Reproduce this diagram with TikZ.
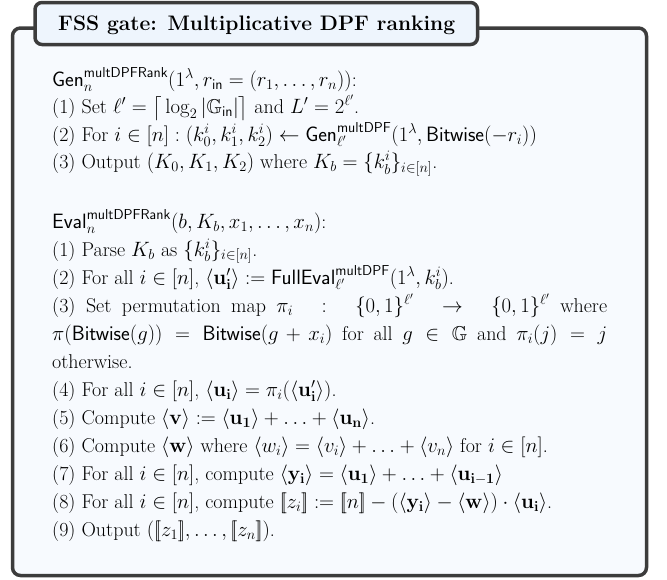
\documentclass[tikz,border=0pt]{standalone}
\usepackage{amsmath, amssymb}
\usepackage{tikz}
\usetikzlibrary{positioning}

\definecolor{frame}{HTML}{3C3C3C}
\definecolor{boxbg}{HTML}{F7FAFE}
\definecolor{titlebg}{HTML}{EEF5FD}

% semantic brackets and shares
\newcommand{\lsem}{\mathopen{[\mkern-3mu[}}
\newcommand{\rsem}{\mathclose{]\mkern-3mu]}}
\newcommand{\shr}[1]{\langle #1\rangle}
\newcommand{\sfn}[1]{\mathsf{#1}}

\begin{document}
\begin{tikzpicture}[x=1pt,y=-1pt,
    algline/.style={anchor=base west,inner sep=0pt,text height=13pt,text depth=5pt,
      font=\fontsize{20}{24}\selectfont},
    gatebox/.style={draw=frame,line width=3.5pt,fill=boxbg,rounded corners=8pt},
    titletab/.style={draw=frame,line width=3.5pt,fill=titlebg,rounded corners=7pt}]
    \useasboundingbox (0,0) rectangle (667,579);

    \draw[gatebox] (12.5,28) rectangle (646.5,575.5);
    \draw[titletab] (35,2.5) rectangle (477.5,44.5);
    \node[anchor=base west,inner sep=0pt,font=\bfseries\fontsize{21}{24}\selectfont] (title) at (58,30) {FSS gate: Multiplicative DPF ranking};

    % key generation
    \node[algline] (gen) at (52,86) {$\sfn{Gen}^{\sfn{multDPFRank}}_n(1^\lambda, r_{\sfn{in}} = (r_1,\ldots,r_n))$:};
    \node[algline] (gen1) at (52,113.5) {(1) Set $\ell' = \big\lceil \log_2|\mathbb{G}_{\sfn{in}}|\big\rceil$ and $L' = 2^{\ell'}$.};
    \node[algline] (gen2) at (52,141) {(2) For $i\in[n] : (k^i_0,k^i_1,k^i_2) \leftarrow \sfn{Gen}^{\sfn{multDPF}}_{\ell'}(1^\lambda, \sfn{Bitwise}(-r_i))$};
    \node[algline] (gen3) at (52,168.5) {(3) Output $(K_0,K_1,K_2)$ where $K_b = \{k^i_b\}_{i\in[n]}$.};

    % evaluation
    \node[algline] (eval) at (52,228) {$\sfn{Eval}^{\sfn{multDPFRank}}_n(b, K_b, x_1,\ldots,x_n)$:};
    \node[algline] (ev1) at (52,256) {(1) Parse $K_b$ as $\{k^i_b\}_{i\in[n]}$.};
    \node[algline] (ev2) at (52,284) {(2) For all $i\in[n]$, $\shr{\mathbf{u'_i}} := \sfn{FullEval}^{\sfn{multDPF}}_{\ell'}(1^\lambda, k^i_b)$.};
    \node[algline] (ev3) at (52,312) {\hbox to 555pt{(3) Set permutation map $\pi_i \;:\; \{0,1\}^{\ell'} \;\to\; \{0,1\}^{\ell'}$ where}};
    \node[algline] (ev3b) at (52,340) {\hbox to 555pt{$\pi(\sfn{Bitwise}(g)) = \sfn{Bitwise}(g+x_i)$ for all $g\in\mathbb{G}$ and $\pi_i(j) = j$}};
    \node[algline] (ev3c) at (52,368) {otherwise.};
    \node[algline] (ev4) at (52,396) {(4) For all $i\in[n]$, $\shr{\mathbf{u_i}} = \pi_i(\shr{\mathbf{u'_i}})$.};
    \node[algline] (ev5) at (52,424) {(5) Compute $\shr{\mathbf{v}} := \shr{\mathbf{u_1}} + \ldots + \shr{\mathbf{u_n}}$.};
    \node[algline] (ev6) at (52,452) {(6) Compute $\shr{\mathbf{w}}$ where $\shr{w_i} = \shr{v_i} + \ldots + \shr{v_n}$ for $i\in[n]$.};
    \node[algline] (ev7) at (52,480) {(7) For all $i\in[n]$, compute $\shr{\mathbf{y_i}} = \shr{\mathbf{u_1}} + \ldots + \shr{\mathbf{u_{i-1}}}$};
    \node[algline] (ev8) at (52,508) {(8) For all $i\in[n]$, compute $\lsem z_i\rsem := \lsem n\rsem - (\shr{\mathbf{y_i}} - \shr{\mathbf{w}})\cdot\shr{\mathbf{u_i}}$.};
    \node[algline] (ev9) at (52,536) {(9) Output $(\lsem z_1\rsem,\ldots,\lsem z_n\rsem)$.};
\end{tikzpicture}
\end{document}
